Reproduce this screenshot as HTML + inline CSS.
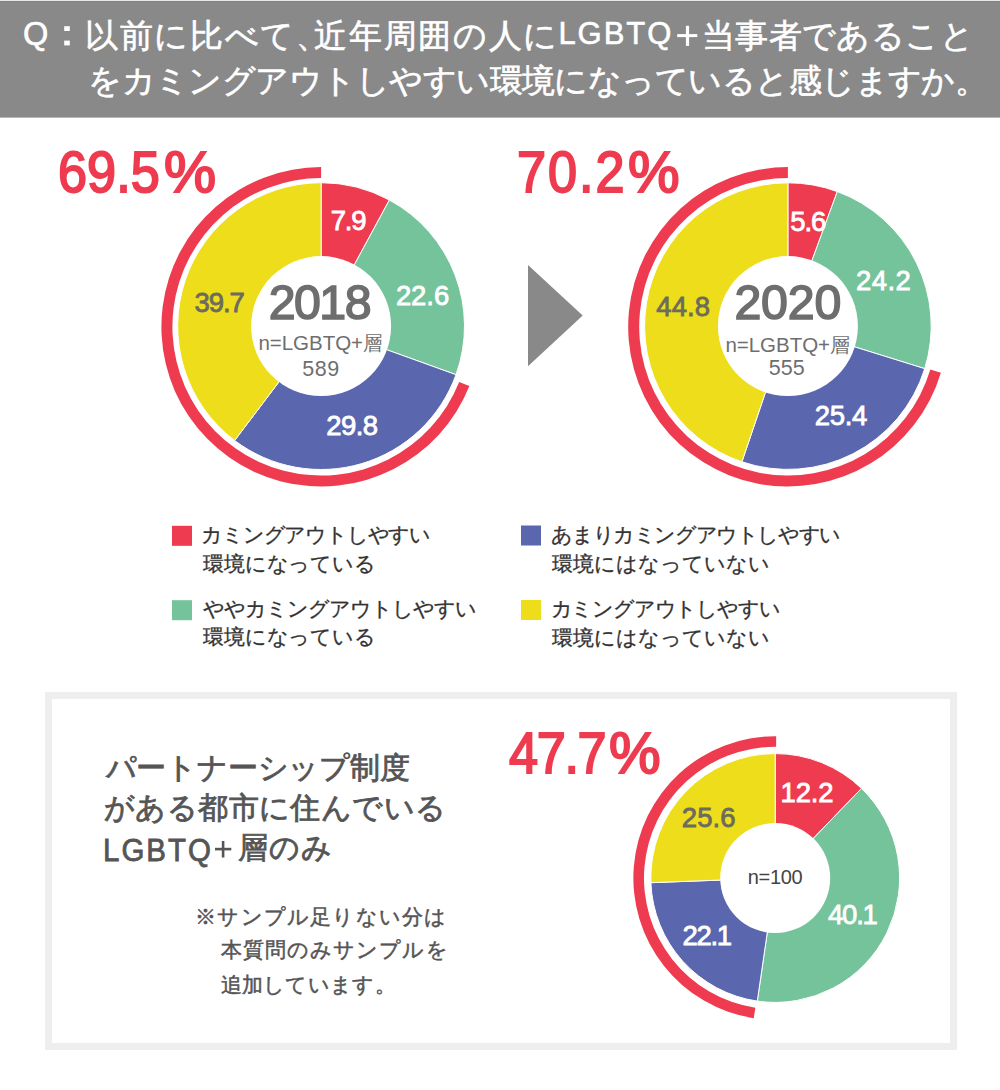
<!DOCTYPE html>
<html><head><meta charset="utf-8"><style>
html,body{margin:0;padding:0;background:#fff;width:1000px;height:1090px;overflow:hidden;position:relative}
svg{position:absolute;left:0;top:0}
.t{position:absolute;white-space:nowrap;font-family:"Liberation Sans",sans-serif;line-height:1}
</style></head><body>
<svg width="1000" height="1090" viewBox="0 0 1000 1090">
<rect x="0" y="0" width="1000" height="1" fill="#e8e8e8"/><rect x="0" y="1" width="1000" height="116.6" fill="#898989"/><rect x="0" y="1" width="1000" height="1" fill="#828282"/>
<rect x="64.2" y="26.2" width="5.6" height="4.8" fill="#fff"/><rect x="64.2" y="40.6" width="5.6" height="4.8" fill="#fff"/>
<rect x="677.2" y="34.1" width="20.1" height="3" fill="#fff"/><rect x="685.9" y="25.8" width="3.2" height="20.1" fill="#fff"/>
<rect x="215" y="847.8" width="16.3" height="2.6" fill="#555"/><rect x="221.8" y="841" width="2.6" height="16.5" fill="#555"/>
<path d="M321.10 182.70 A143.40 143.40 0 0 1 389.39 200.01 L321.10 326.10 A0.00 0.00 0 0 0 321.10 326.10 Z" fill="#ee3b4f" stroke="#fff" stroke-width="1.0"/>
<path d="M389.39 200.01 A143.40 143.40 0 0 1 456.02 374.68 L321.10 326.10 A0.00 0.00 0 0 0 321.10 326.10 Z" fill="#74c39b" stroke="#fff" stroke-width="1.0"/>
<path d="M456.02 374.68 A143.40 143.40 0 0 1 234.64 440.50 L321.10 326.10 A0.00 0.00 0 0 0 321.10 326.10 Z" fill="#5a67ae" stroke="#fff" stroke-width="1.0"/>
<path d="M234.64 440.50 A143.40 143.40 0 0 1 321.10 182.70 L321.10 326.10 A0.00 0.00 0 0 0 321.10 326.10 Z" fill="#eddd1a" stroke="#fff" stroke-width="1.0"/>
<circle cx="321.10" cy="326.10" r="70.00" fill="#fff"/>
<path d="M469.38 386.11 A159.70 159.70 0 1 1 321.10 167.10 L321.10 178.10 A148.70 148.70 0 1 0 459.17 382.02 Z" fill="#ee3b4f"/>
<path d="M787.90 182.80 A143.30 143.30 0 0 1 837.29 191.58 L787.90 326.10 A0.00 0.00 0 0 0 787.90 326.10 Z" fill="#ee3b4f" stroke="#fff" stroke-width="1.0"/>
<path d="M837.29 191.58 A143.30 143.30 0 0 1 924.73 368.67 L787.90 326.10 A0.00 0.00 0 0 0 787.90 326.10 Z" fill="#74c39b" stroke="#fff" stroke-width="1.0"/>
<path d="M924.73 368.67 A143.30 143.30 0 0 1 741.91 461.82 L787.90 326.10 A0.00 0.00 0 0 0 787.90 326.10 Z" fill="#5a67ae" stroke="#fff" stroke-width="1.0"/>
<path d="M741.91 461.82 A143.30 143.30 0 0 1 787.90 182.80 L787.90 326.10 A0.00 0.00 0 0 0 787.90 326.10 Z" fill="#eddd1a" stroke="#fff" stroke-width="1.0"/>
<circle cx="787.90" cy="326.10" r="70.00" fill="#fff"/>
<path d="M940.86 372.69 A159.70 159.70 0 1 1 787.90 167.10 L787.90 178.10 A148.70 148.70 0 1 0 930.33 369.53 Z" fill="#ee3b4f"/>
<path d="M775.20 753.60 A124.40 124.40 0 0 1 861.49 788.39 L775.20 878.00 A0.00 0.00 0 0 0 775.20 878.00 Z" fill="#ee3b4f" stroke="#fff" stroke-width="1.0"/>
<path d="M861.49 788.39 A124.40 124.40 0 0 1 757.29 1001.10 L775.20 878.00 A0.00 0.00 0 0 0 775.20 878.00 Z" fill="#74c39b" stroke="#fff" stroke-width="1.0"/>
<path d="M757.29 1001.10 A124.40 124.40 0 0 1 650.89 882.69 L775.20 878.00 A0.00 0.00 0 0 0 775.20 878.00 Z" fill="#5a67ae" stroke="#fff" stroke-width="1.0"/>
<path d="M650.89 882.69 A124.40 124.40 0 0 1 775.20 753.60 L775.20 878.00 A0.00 0.00 0 0 0 775.20 878.00 Z" fill="#eddd1a" stroke="#fff" stroke-width="1.0"/>
<circle cx="775.20" cy="878.00" r="55.00" fill="#fff"/>
<path d="M753.75 1018.17 A141.80 141.80 0 0 1 776.19 736.20 L776.12 746.80 A131.20 131.20 0 0 0 755.35 1007.69 Z" fill="#ee3b4f"/>
<polygon points="528,265 582.7,315.5 528,366.2" fill="#898989"/>
<rect x="172.0" y="525.8" width="20" height="20" fill="#ee3b4f"/>
<rect x="172.0" y="600.2" width="20" height="20" fill="#74c39b"/>
<rect x="521.0" y="525.5" width="20" height="20" fill="#5a67ae"/>
<rect x="521.0" y="600.0" width="20" height="20" fill="#eddd1a"/>
<rect x="48.5" y="695.5" width="905" height="351" fill="none" stroke="#eeeeee" stroke-width="7"/>
</svg>
<div class="t" style="left:22.90px;top:17.70px;color:#ffffff;font-size:32.29px;font-weight:400;letter-spacing:0px;-webkit-text-stroke:0.6px currentColor;transform:scaleX(1.009);transform-origin:0 0">Q</div>
<div class="t" style="left:84.95px;top:18.75px;color:#ffffff;font-size:33px;font-weight:400;letter-spacing:1.685px;-webkit-text-stroke:0.6px currentColor">以前に比べて<span style="margin-right:-0.5em">、</span>近年周囲の人に</div>
<div class="t" style="left:558.40px;top:18.00px;color:#ffffff;font-size:31px;font-weight:400;letter-spacing:1.95px;-webkit-text-stroke:0.6px currentColor">LGBTQ</div>
<div class="t" style="left:701.95px;top:18.75px;color:#ffffff;font-size:33px;font-weight:400;letter-spacing:0.386px;-webkit-text-stroke:0.6px currentColor">当事者であること</div>
<div class="t" style="left:88.12px;top:64.25px;color:#ffffff;font-size:33px;font-weight:400;letter-spacing:-0.548px;-webkit-text-stroke:0.6px currentColor">をカミングアウトしやすい環境になっていると感じますか。</div>
<div class="t" style="left:57.95px;top:142.95px;color:#ee3b4f;font-size:58px;font-weight:400;letter-spacing:0.037px;-webkit-text-stroke:2.0px currentColor;transform:scaleX(0.9);transform-origin:0 0">69.5</div>
<div class="t" style="left:163.95px;top:142.95px;color:#ee3b4f;font-size:58px;font-weight:400;letter-spacing:0px;-webkit-text-stroke:2.0px currentColor;transform:scaleX(1.01);transform-origin:0 0">%</div>
<div class="t" style="left:517.00px;top:143.00px;color:#ee3b4f;font-size:58px;font-weight:400;letter-spacing:2.222px;-webkit-text-stroke:2.0px currentColor;transform:scaleX(0.9);transform-origin:0 0">70.2</div>
<div class="t" style="left:628.00px;top:142.95px;color:#ee3b4f;font-size:58px;font-weight:400;letter-spacing:0px;-webkit-text-stroke:2.0px currentColor">%</div>
<div class="t" style="left:509.00px;top:724.00px;color:#ee3b4f;font-size:58px;font-weight:400;letter-spacing:-1.481px;-webkit-text-stroke:2.0px currentColor;transform:scaleX(0.9);transform-origin:0 0">47.7</div>
<div class="t" style="left:609.00px;top:724.00px;color:#ee3b4f;font-size:58px;font-weight:400;letter-spacing:0px;-webkit-text-stroke:2.0px currentColor">%</div>
<div class="t" style="left:330.75px;top:207.00px;color:#ffffff;font-size:27.5px;font-weight:400;letter-spacing:-1.25px;-webkit-text-stroke:0.8px currentColor">7.9</div>
<div class="t" style="left:395.90px;top:282.10px;color:#ffffff;font-size:27.5px;font-weight:400;letter-spacing:-0.067px;-webkit-text-stroke:0.8px currentColor">22.6</div>
<div class="t" style="left:326.20px;top:411.60px;color:#ffffff;font-size:27.5px;font-weight:400;letter-spacing:-0.533px;-webkit-text-stroke:0.8px currentColor">29.8</div>
<div class="t" style="left:194.40px;top:288.50px;color:#6b6b5e;font-size:27.5px;font-weight:400;letter-spacing:-1.0px;-webkit-text-stroke:0.8px currentColor">39.7</div>
<div class="t" style="left:268.70px;top:277.90px;color:#6e6e6e;font-size:48.3px;font-weight:400;letter-spacing:-1.533px;-webkit-text-stroke:1.6px currentColor">2018</div>
<div class="t" style="left:258.40px;top:332.90px;color:#6e6e6e;font-size:20.5px;font-weight:400;letter-spacing:-0.029px">n=LGBTQ+</div>
<div class="t" style="left:362.85px;top:334.25px;color:#6e6e6e;font-size:19.69px;font-weight:400;letter-spacing:0px;transform:scaleX(0.972);transform-origin:0 0">層</div>
<div class="t" style="left:302.15px;top:358.55px;color:#6e6e6e;font-size:21.5px;font-weight:400;letter-spacing:0.55px">589</div>
<div class="t" style="left:790.20px;top:208.20px;color:#ffffff;font-size:27.5px;font-weight:400;letter-spacing:-1.0px;-webkit-text-stroke:0.8px currentColor">5.6</div>
<div class="t" style="left:856.10px;top:267.30px;color:#ffffff;font-size:27.5px;font-weight:400;letter-spacing:0.4px;-webkit-text-stroke:0.8px currentColor">24.2</div>
<div class="t" style="left:814.85px;top:402.10px;color:#ffffff;font-size:27.5px;font-weight:400;letter-spacing:-0.367px;-webkit-text-stroke:0.8px currentColor">25.4</div>
<div class="t" style="left:656.30px;top:292.50px;color:#6b6b5e;font-size:27.5px;font-weight:400;letter-spacing:0.067px;-webkit-text-stroke:0.8px currentColor">44.8</div>
<div class="t" style="left:734.40px;top:277.70px;color:#6e6e6e;font-size:48.3px;font-weight:400;letter-spacing:-0.133px;-webkit-text-stroke:1.6px currentColor">2020</div>
<div class="t" style="left:725.40px;top:334.90px;color:#6e6e6e;font-size:20.5px;font-weight:400;letter-spacing:-0.029px">n=LGBTQ+</div>
<div class="t" style="left:829.60px;top:336.25px;color:#6e6e6e;font-size:19.69px;font-weight:400;letter-spacing:0px">層</div>
<div class="t" style="left:768.75px;top:358.00px;color:#6e6e6e;font-size:21.5px;font-weight:400;letter-spacing:0.05px">555</div>
<div class="t" style="left:780.60px;top:779.30px;color:#ffffff;font-size:27.5px;font-weight:400;letter-spacing:-0.2px;-webkit-text-stroke:0.8px currentColor">12.2</div>
<div class="t" style="left:828.10px;top:900.50px;color:#ffffff;font-size:27.5px;font-weight:400;letter-spacing:-1.267px;-webkit-text-stroke:0.8px currentColor">40.1</div>
<div class="t" style="left:682.50px;top:921.85px;color:#ffffff;font-size:27.5px;font-weight:400;letter-spacing:-1.333px;-webkit-text-stroke:0.8px currentColor">22.1</div>
<div class="t" style="left:681.85px;top:803.65px;color:#6b6b5e;font-size:27.5px;font-weight:400;letter-spacing:0.033px;-webkit-text-stroke:0.8px currentColor">25.6</div>
<div class="t" style="left:747.70px;top:866.80px;color:#444444;font-size:20px;font-weight:400;letter-spacing:-0.3px">n=100</div>
<div class="t" style="left:201.20px;top:523.75px;color:#333333;font-size:21px;font-weight:400;letter-spacing:-1.2px;-webkit-text-stroke:0.3px currentColor">カミングアウトしやすい</div>
<div class="t" style="left:203.10px;top:552.65px;color:#333333;font-size:21px;font-weight:400;letter-spacing:-0.171px;-webkit-text-stroke:0.3px currentColor">環境になっている</div>
<div class="t" style="left:203.00px;top:597.75px;color:#333333;font-size:21px;font-weight:400;letter-spacing:-1.0px;-webkit-text-stroke:0.3px currentColor">ややカミングアウトしやすい</div>
<div class="t" style="left:203.10px;top:626.00px;color:#333333;font-size:21px;font-weight:400;letter-spacing:-0.171px;-webkit-text-stroke:0.3px currentColor">環境になっている</div>
<div class="t" style="left:551.40px;top:523.75px;color:#333333;font-size:21px;font-weight:400;letter-spacing:-1.4px;-webkit-text-stroke:0.3px currentColor">あまりカミングアウトしやすい</div>
<div class="t" style="left:552.35px;top:552.65px;color:#333333;font-size:21px;font-weight:400;letter-spacing:-0.033px;-webkit-text-stroke:0.3px currentColor">環境にはなっていない</div>
<div class="t" style="left:550.55px;top:598.45px;color:#333333;font-size:21px;font-weight:400;letter-spacing:-1.19px;-webkit-text-stroke:0.3px currentColor">カミングアウトしやすい</div>
<div class="t" style="left:552.35px;top:626.90px;color:#333333;font-size:21px;font-weight:400;letter-spacing:-0.033px;-webkit-text-stroke:0.3px currentColor">環境にはなっていない</div>
<div class="t" style="left:105.50px;top:752.50px;color:#555555;font-size:30px;font-weight:400;letter-spacing:-0.2px;-webkit-text-stroke:0.8px currentColor">パートナーシップ制度</div>
<div class="t" style="left:104.00px;top:792.50px;color:#555555;font-size:30px;font-weight:400;letter-spacing:0.4px;-webkit-text-stroke:0.8px currentColor">がある都市に住んでいる</div>
<div class="t" style="left:103.00px;top:834.50px;color:#555555;font-size:31px;font-weight:400;letter-spacing:2.105px;-webkit-text-stroke:0.8px currentColor;transform:scaleX(0.95);transform-origin:0 0">LGBTQ</div>
<div class="t" style="left:237.88px;top:832.50px;color:#555555;font-size:30px;font-weight:400;letter-spacing:1.125px;-webkit-text-stroke:0.8px currentColor">層のみ</div>
<div class="t" style="left:195.20px;top:906.30px;color:#555555;font-size:21px;font-weight:400;letter-spacing:1.2px;-webkit-text-stroke:0.5px currentColor">※サンプル足りない分は</div>
<div class="t" style="left:220.60px;top:938.50px;color:#555555;font-size:21px;font-weight:400;letter-spacing:1.111px;-webkit-text-stroke:0.5px currentColor">本質問のみサンプルを</div>
<div class="t" style="left:220.60px;top:973.50px;color:#555555;font-size:21px;font-weight:400;letter-spacing:0.286px;-webkit-text-stroke:0.5px currentColor">追加しています。</div>
</body></html>
